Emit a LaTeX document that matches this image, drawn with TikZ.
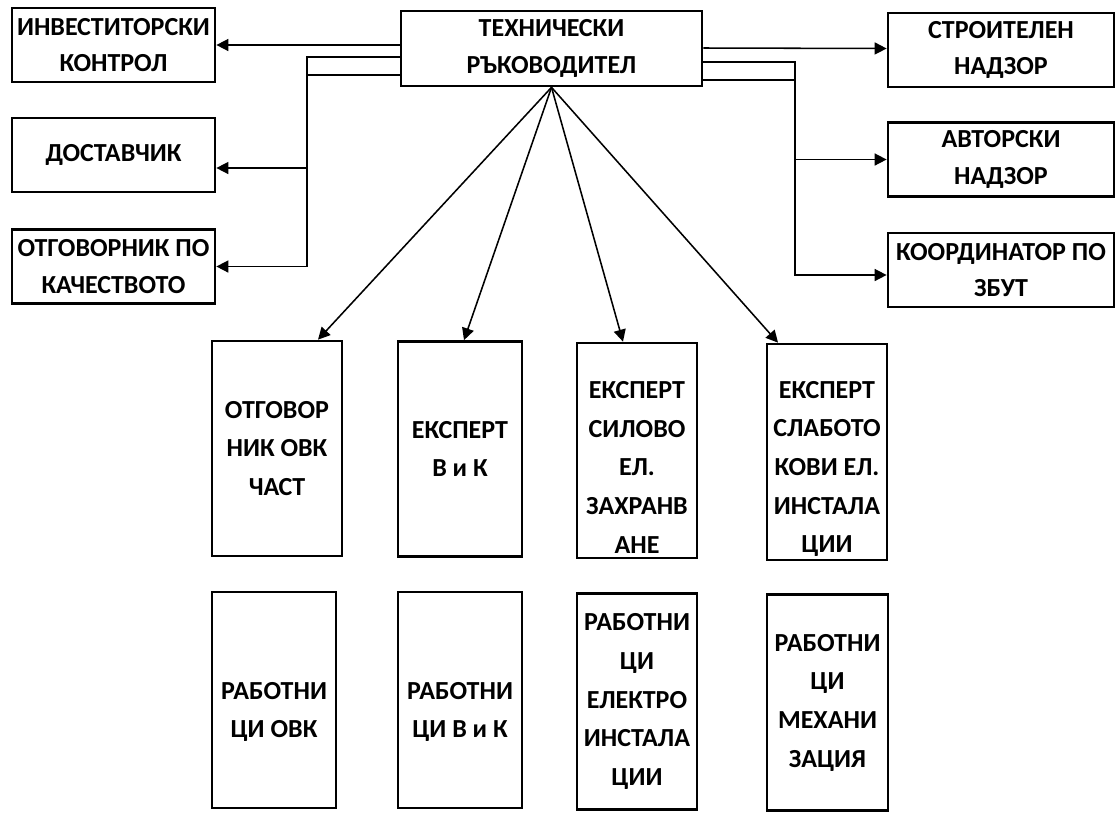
\documentclass[tikz,border=0pt]{standalone}
\usepackage{fontspec}
\setmainfont{Carlito}
\usetikzlibrary{arrows.meta,calc}
\newcommand{\lowr}[1]{\rule{0pt}{#1}}

\begin{document}
\begin{tikzpicture}[x=0.025cm,y=-0.025cm,
    box/.style={draw, line width=1.9pt, align=center, inner sep=1pt,
      font=\bfseries\fontsize{18.5}{27.5}\selectfont},
    side/.style={box, minimum width=5.075cm, minimum height=1.85cm,
      font=\bfseries\fontsize{18.5}{26}\selectfont},
    sidr/.style={side, minimum width=5.65cm},
    tall/.style={box, minimum width=3cm, minimum height=5.4cm},
    arr/.style={-{Triangle[length=3mm,width=3mm]}, line width=1.1pt}]
  \useasboundingbox (0,0) rectangle (1117,812);

  % head and the boxes on both sides
  \node[side, minimum width=7.525cm, minimum height=1.875cm] (tr) at (551.5,48.5) {ТЕХНИЧЕСКИ\\РЪКОВОДИТЕЛ};
  \node[side] (inv) at (113.5,45) {ИНВЕСТИТОРСКИ\\КОНТРОЛ};
  \node[side] (dost) at (113.5,155) {ДОСТАВЧИК};
  \node[side] (kach) at (113.5,266.5) {ОТГОВОРНИК ПО\\КАЧЕСТВОТО};
  \node[sidr] (sn) at (1001,50) {СТРОИТЕЛЕН\\НАДЗОР};
  \node[sidr] (an) at (1001,159.5) {АВТОРСКИ\\НАДЗОР};
  \node[sidr] (kz) at (1001,270) {КООРДИНАТОР ПО\\ЗБУТ};

  % experts
  \node[tall, minimum width=3.25cm, minimum height=5.375cm] (ovk) at (277,448.5) {ОТГОВОР\\НИК ОВК\\ЧАСТ};
  \node[tall, minimum width=3.1cm, minimum height=5.375cm] (vik) at (460,449) {ЕКСПЕРТ\\В и К};
  \node[tall, minimum height=5.375cm] (sil) at (637,450.5) {\lowr{1.27cm}ЕКСПЕРТ\\СИЛОВО\\ЕЛ.\\ЗАХРАНВ\\АНЕ};
  \node[tall, minimum height=5.4cm] (sla) at (827,452) {\lowr{1.27cm}ЕКСПЕРТ\\СЛАБОТО\\КОВИ ЕЛ.\\ИНСТАЛА\\ЦИИ};

  % workers
  \node[tall, minimum width=3.1cm] (rovk) at (274,700) {\lowr{1.02cm}РАБОТНИ\\ЦИ ОВК};
  \node[tall, minimum width=3.1cm] (rvik) at (460,700) {\lowr{1.02cm}РАБОТНИ\\ЦИ В и К};
  \node[tall] (rel) at (637,701.5) {РАБОТНИ\\ЦИ\\ЕЛЕКТРО\\ИНСТАЛА\\ЦИИ};
  \node[tall, minimum width=3.025cm] (rmeh) at (827.5,702.5) {РАБОТНИ\\ЦИ\\МЕХАНИ\\ЗАЦИЯ};

  \coordinate (lb) at (307,0);
  \coordinate (rb) at (795,0);

  % left side
  \draw[arr] (tr.west |- inv.east) -- (inv.east);
  \draw[arr] ($(tr.west)+(0,8.5)$) -| ($(lb |- dost.east)+(0,13)$) -- ($(dost.east)+(0,13)$);
  \draw[arr] ($(tr.west)+(0,26.5)$) -| (lb |- kach.east) -- (kach.east);

  % right side
  \draw[arr] ($(tr.east)+(0,-0.5)$) -- ($(sn.west)+(0,-1.5)$);
  \draw[arr] ($(tr.east)+(0,13.5)$) -| (rb |- an.west) -- (an.west);
  \draw[arr] ($(tr.east)+(0,31.5)$) -| ($(rb |- kz.west)+(0,5)$) -- ($(kz.west)+(0,5)$);

  % down to the experts
  \foreach \n/\dx in {ovk/41, vik/4, sil/-14, sla/-49}
    \draw[arr] (tr.south) -- ($(\n.north)+(\dx,0)$);
\end{tikzpicture}
\end{document}
